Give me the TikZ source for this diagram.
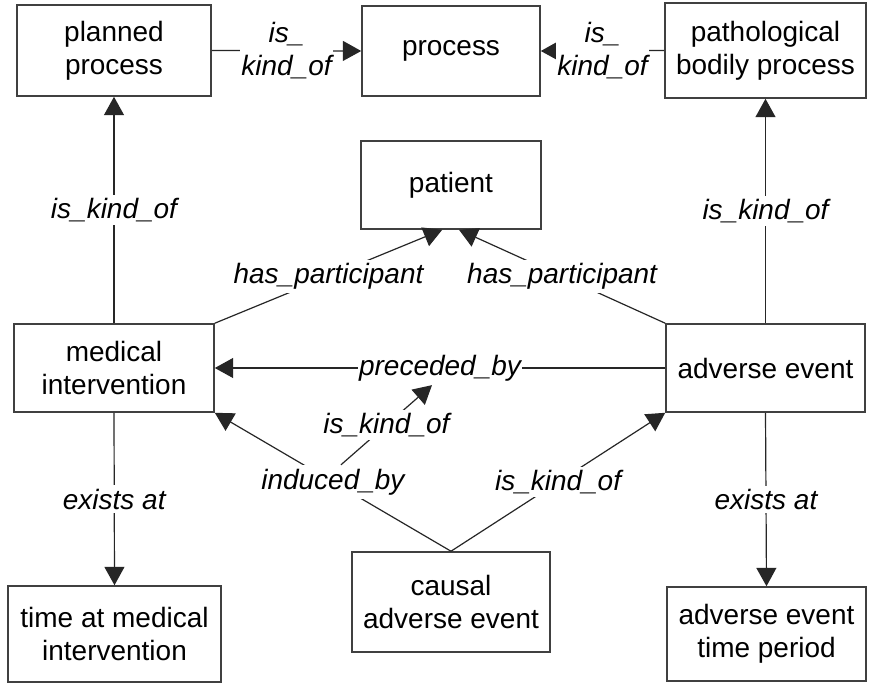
\documentclass[tikz,border=0pt]{standalone}
\usepackage{fontspec}
\setmainfont{Liberation Sans}
\usetikzlibrary{arrows.meta}
\newcommand{\nodefont}{\fontsize{19.9}{23.5}\selectfont}
\tikzstyle{entity} = [draw=black!75, line width=1.1pt, inner sep=2pt, align=center]
\tikzstyle{rel} = [draw=black!85, line width=0.85pt, -{Triangle[length=0.46cm,width=0.5cm]}]
\tikzstyle{rellabel} = [fill=white, inner xsep=1pt, inner ysep=2.5pt, align=center,
  font=\nodefont\itshape]

\begin{document}
\begin{tikzpicture}[x=0.025cm, y=-0.025cm, every node/.style={font=\nodefont}]
    \useasboundingbox[fill=white] (0,0) rectangle (887,691);
    \node[entity,minimum width=4.85cm,minimum height=2.275cm] (planned) at (114,50.5)
        {planned\\process};
    \node[entity,minimum width=4.45cm,minimum height=2.25cm] (process) at (451,51)
        {process};
    \node[entity,minimum width=5.025cm,minimum height=2.375cm] (patho) at (765.5,50.5)
        {pathological\\bodily process};
    \node[entity,minimum width=4.5cm,minimum height=2.2cm] (patient) at (451,185)
        {patient};
    \node[entity,minimum width=5cm,minimum height=2.2cm] (medical) at (114,368)
        {medical\\intervention};
    \node[entity,minimum width=4.975cm,minimum height=2.2cm] (adverse) at (765.5,368)
        {adverse event};
    \node[entity,minimum width=5.325cm,minimum height=2.4cm] (tmedical) at (114.5,634)
        {time at medical\\intervention};
    \node[entity,minimum width=4.95cm,minimum height=2.5cm] (causal) at (451,602)
        {causal\\adverse event};
    \node[entity,minimum width=4.975cm,minimum height=2.35cm] (tadverse) at (766.5,634)
        {adverse event\\time period};
    \draw[rel] (planned.east) -- node[rellabel]{is\_\\kind\_of} (process.west);
    \draw[rel] (patho.west) -- node[rellabel]{is\_\\kind\_of} (process.east);
    \draw[rel] (medical.north) -- node[rellabel]{is\_kind\_of} (planned.south);
    \draw[rel] (adverse.north) -- node[rellabel]{is\_kind\_of} (patho.south);
    \draw[rel] (medical.north east) -- node[rellabel]{has\_participant}
        ([xshift=-0.22cm]patient.south);
    \draw[rel] (adverse.north west) -- node[rellabel]{has\_participant}
        ([xshift=0.2cm]patient.south);
    \draw[rel] (adverse.west) -- node[rellabel] (preceded) {preceded\_by} (medical.east);
    \draw[rel] (causal.north) -- node[rellabel] (induced) {induced\_by} (medical.south east);
    \draw[rel] (causal.north) -- node[rellabel]{is\_kind\_of} (adverse.south west);
    \draw[rel] ([xshift=0.2cm]induced.north) -- node[rellabel]{is\_kind\_of}
        ([xshift=-0.2cm]preceded.south);
    \draw[rel] (medical.south) -- node[rellabel]{exists at} (tmedical.north);
    \draw[rel] (adverse.south) -- node[rellabel]{exists at} (tadverse.north);
\end{tikzpicture}
\end{document}
